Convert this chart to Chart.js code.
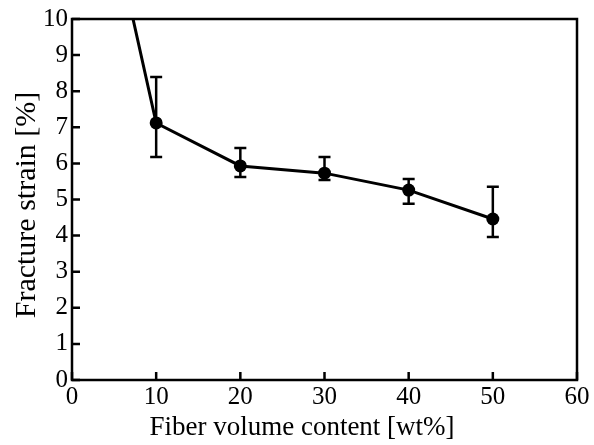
<!DOCTYPE html>
<html>
<head>
<meta charset="utf-8">
<script src="https://cdn.jsdelivr.net/npm/chart.js@4/dist/chart.umd.min.js"></script>
<style>
  body { margin: 0; background: #fff; }
  #wrap { width: 594px; height: 445px; }
</style>
</head>
<body>
<div id="wrap"><canvas id="myChart" width="594" height="445"></canvas></div>
<script>
// fiber content [wt%] and fracture strain [%]
var fiber_content = [0, 10, 20, 30, 40, 50];
var strain_mean = [17.6, 7.12, 5.93, 5.73, 5.26, 4.46];
var strain_top = [null, 8.39, 6.43, 6.18, 5.57, 5.35];
var strain_bottom = [null, 6.18, 5.62, 5.54, 4.88, 3.96];
var x_ticks = [0, 10, 20, 30, 40, 50, 60];
var y_ticks = [0, 1, 2, 3, 4, 5, 6, 7, 8, 9, 10];
var x_title = 'Fiber volume content [wt%]';
var y_title = 'Fracture strain [%]';

var points = [];
for (var i = 0; i < fiber_content.length; i++) {
	points.push({x: fiber_content[i], y: strain_mean[i]});
}

// frame, inward ticks, error bars and axis titles
var framePlugin = {
	id: 'frame',
	afterDatasetsDraw: function(chart) {
		var ctx = chart.ctx;
		var xs = chart.scales.x, ys = chart.scales.y;
		var a = chart.chartArea;
		ctx.save();
		ctx.strokeStyle = '#000';
		ctx.lineWidth = 2.5;
		ctx.beginPath();
		for (var i = 0; i < strain_top.length; i++) {
			if (strain_top[i] === null) continue;
			var px = xs.getPixelForValue(fiber_content[i]);
			var t = ys.getPixelForValue(strain_top[i]);
			var b = ys.getPixelForValue(strain_bottom[i]);
			ctx.moveTo(px, t); ctx.lineTo(px, b);
			ctx.moveTo(px - 6, t); ctx.lineTo(px + 6, t);
			ctx.moveTo(px - 6, b); ctx.lineTo(px + 6, b);
		}
		ctx.stroke();
		ctx.strokeRect(a.left, a.top, a.right - a.left, a.bottom - a.top);
		ctx.beginPath();
		x_ticks.forEach(function(v) {
			var px = xs.getPixelForValue(v);
			ctx.moveTo(px, a.bottom); ctx.lineTo(px, a.bottom - 8);
		});
		y_ticks.forEach(function(v) {
			var py = ys.getPixelForValue(v);
			ctx.moveTo(a.left, py); ctx.lineTo(a.left + 8, py);
		});
		ctx.stroke();

		ctx.fillStyle = '#000';
		ctx.textAlign = 'center';
		ctx.textBaseline = 'middle';
		ctx.font = '27px "Liberation Serif"';
		ctx.fillText(x_title, 302, 428);
		ctx.translate(27, 205);
		ctx.rotate(-Math.PI / 2);
		ctx.font = '30px "Liberation Serif"';
		ctx.fillText(y_title, 0, 0);
		ctx.restore();
	}
};

var ctx = document.getElementById("myChart");
var myChart = new Chart(ctx, {
	type: 'line',
	plugins: [framePlugin],
	data: {
		datasets: [{
			data: points,
			borderColor: '#000',
			backgroundColor: '#000',
			borderWidth: 3,
			pointRadius: [0, 6.5, 6.5, 6.5, 6.5, 6.5],
			pointBorderWidth: 0,
			tension: 0
		}]
	},
	options: {
		responsive: false,
		animation: false,
		layout: { padding: { left: 0, top: 19, right: 17, bottom: 0 } },
		plugins: {
			legend: { display: false },
			tooltip: { enabled: false }
		},
		scales: {
			x: {
				type: 'linear',
				min: 0, max: 60,
				afterFit: function(s) { s.height = 65; },
				afterBuildTicks: function(s) { s.ticks = x_ticks.map(function(v) { return {value: v}; }); },
				grid: { display: false, drawTicks: false },
				border: { display: false },
				ticks: { color: '#000', padding: 2, font: { family: 'Liberation Serif', size: 25 } }
			},
			y: {
				type: 'linear',
				min: 0, max: 10,
				afterFit: function(s) { s.width = 72; },
				afterBuildTicks: function(s) { s.ticks = y_ticks.map(function(v) { return {value: v}; }); },
				grid: { display: false, drawTicks: false },
				border: { display: false },
				ticks: { color: '#000', padding: 4, font: { family: 'Liberation Serif', size: 25 } }
			}
		}
	}
});
</script>
</body>
</html>
